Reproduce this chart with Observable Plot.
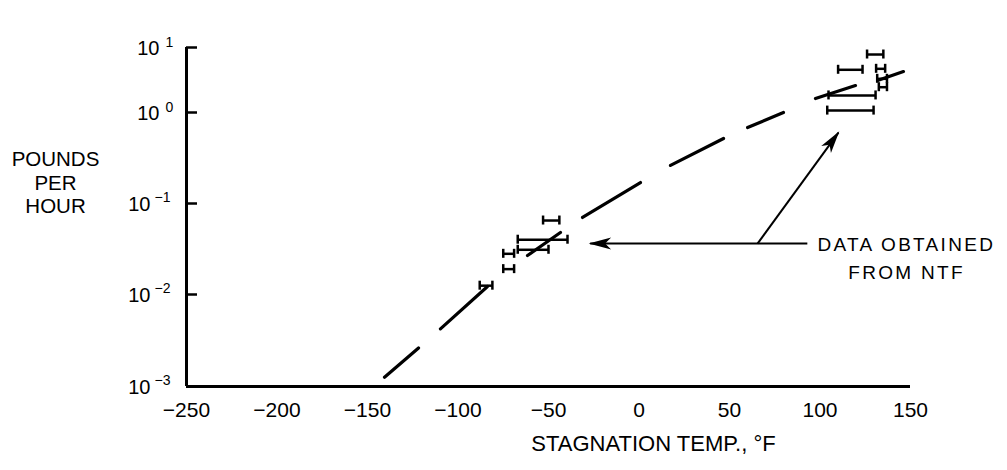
<!DOCTYPE html>
<html><head><meta charset="utf-8">
<script src="https://cdn.jsdelivr.net/npm/d3@7"></script>
<script src="https://cdn.jsdelivr.net/npm/@observablehq/plot@0.6"></script>
<style>
body{margin:0;background:#fff}
svg{font-family:"Liberation Sans",Arial,Helvetica,sans-serif}
</style>
</head><body><div id="chart"></div>
<script>
// Dashed trend curve: points at the ends of each hand-drawn dash (dash, gap, dash, ...)
const curveTemp = [-140.6, -121.8, -109.7, -83.7, -61.6, -43.4, -31.2, 0.8, 17.4, 46.7, 60.0, 79.8, 97.5, 119.6, 131.8, 146.1];
const curveRate = [0.00126, 0.00262, 0.00423, 0.01225, 0.0268, 0.048, 0.0702, 0.170, 0.262, 0.518, 0.684, 1.0, 1.64, 2.60, 3.11, 4.27];
// Error bars (data obtained from NTF)
const barLow  = [-88, -75, -75, -67, -67, -53, 104, 104.7, 110, 126, 131, 131.6, 132.5];
const barHigh = [-81, -69, -69, -50, -39.5, -44, 129.6, 130.7, 123.5, 135, 136, 137, 137];
const barRate = [0.0125, 0.019, 0.028, 0.031, 0.040, 0.065, 1.07, 1.83, 4.54, 7.8, 4.7, 3.3, 2.45];
// Axis ticks
const xTicks = [-250, -200, -150, -100, -50, 0, 50, 100, 150];
const yTicks = [0.001, 0.01, 0.1, 1, 10];
const yExpNeg = [0.001, 0.01, 0.1];
const yExpNegLabels = ["\u22123", "\u22122", "\u22121"];
const yExpPos = [1, 10];
const yExpPosLabels = ["0", "1"];
// Annotation
const arrowFromX = [93, 65.5];
const arrowFromY = [0.0363, 0.0363];
const arrowToX = [-27, 110.2];
const arrowToY = [0.0363, 0.602];
const noteText = ["DATA OBTAINED", "FROM NTF"];
const noteX = [98.6, 147.8];
const noteY = [0.0363, 0.0363];

const W = 1007, H = 470, ML = 186, MR = 97;
const xDomain = [-250, 150];
const yRange = [386, 294, 203, 112, 47];

const curve = curveTemp.map((t, i) => ({t, r: curveRate[i]}));
const bars = barRate.map((r, i) => ({lo: barLow[i], hi: barHigh[i], r}));
const arrows = arrowFromX.map((x, i) => ({x1: x, y1: arrowFromY[i], x2: arrowToX[i], y2: arrowToY[i]}));

// hand-drawn dashes: alternate dash / gap between successive curve points (pixel lengths)
const xs = d3.scaleLinear(xDomain, [ML, W - MR]);
const ys = d3.scaleLog(yTicks, yRange);
const dashLens = [];
for (let i = 1; i < curve.length; i++) {
  dashLens.push(Math.hypot(xs(curve[i].t) - xs(curve[i - 1].t), ys(curve[i].r) - ys(curve[i - 1].r)));
}
if (dashLens.length % 2 === 1) dashLens.push(1000);
const dashPattern = dashLens.map(v => v.toFixed(2)).join(",");

function arrowHead(color) {
  const m = d3.create("svg:marker")
    .attr("viewBox", "-23 -7 25 14")
    .attr("markerWidth", 25).attr("markerHeight", 14)
    .attr("markerUnits", "userSpaceOnUse")
    .attr("orient", "auto")
    .attr("refX", 0).attr("refY", 0)
    .attr("fill", "black").attr("stroke", "none");
  m.append("path").attr("d", "M1.5,0L-21,-6L-15,0L-21,6Z");
  return m.node();
}

let arrowMark;
try {
  arrowMark = Plot.link(arrows, {x1: "x1", y1: "y1", x2: "x2", y2: "y2", stroke: "black", strokeWidth: 2, markerEnd: arrowHead});
} catch (e) {
  arrowMark = Plot.arrow(arrows, {x1: "x1", y1: "y1", x2: "x2", y2: "y2", stroke: "black", strokeWidth: 2.2, headLength: 20, headAngle: 30});
}

const chart = Plot.plot({
  width: W, height: H,
  marginLeft: ML, marginRight: MR, marginTop: 47, marginBottom: 84,
  style: {fontFamily: "'Liberation Sans', Arial, sans-serif", background: "white", color: "black", overflow: "visible"},
  x: {domain: xDomain, axis: null},
  y: {type: "log", domain: yTicks, range: yRange, axis: null},
  marks: [
    // axes
    Plot.ruleX([-250], {y1: 0.001, y2: 10, stroke: "black", strokeWidth: 3}),
    Plot.ruleY([0.001], {x1: -250, x2: 150, stroke: "black", strokeWidth: 3}),
    Plot.ruleY(yTicks.slice(1), {y: d => d, x1: -250, x2: -250, insetRight: -11, stroke: "black", strokeWidth: 2.5}),
    Plot.text(xTicks, {x: d => d, y: 0.001, text: d => d < 0 ? "\u2212" + (-d) : String(d), dy: 24, fontSize: 21, textAnchor: "middle"}),
    Plot.text(yExpNeg, {x: -250, y: d => d, text: () => "10", dx: -36, dy: 1, fontSize: 20, textAnchor: "end"}),
    Plot.text(yExpNeg, {x: -250, y: d => d, text: (d, i) => yExpNegLabels[i], dx: -32, dy: -6, fontSize: 14, textAnchor: "start"}),
    Plot.text(yExpPos, {x: -250, y: d => d, text: () => "10", dx: -27, dy: 1, fontSize: 20, textAnchor: "end"}),
    Plot.text(yExpPos, {x: -250, y: d => d, text: (d, i) => yExpPosLabels[i], dx: -21, dy: -5, fontSize: 14, textAnchor: "start"}),
    Plot.text(["STAGNATION TEMP., \u00b0F"], {frameAnchor: "bottom", dx: 105, dy: 64, fontSize: 22, textAnchor: "middle"}),
    Plot.text(["POUNDS\nPER\nHOUR"], {frameAnchor: "left", dx: -131, dy: -35, fontSize: 20.5, lineHeight: 1.15, textAnchor: "middle"}),
    // curve
    Plot.line(curve, {x: "t", y: "r", stroke: "black", strokeWidth: 3.2, curve: "linear", strokeDasharray: dashPattern}),
    // error bars
    Plot.ruleY(bars, {y: "r", x1: "lo", x2: "hi", stroke: "black", strokeWidth: 2.5}),
    Plot.ruleX(bars, {x: "lo", y1: "r", y2: "r", insetTop: -4.5, insetBottom: -4.5, stroke: "black", strokeWidth: 2.5}),
    Plot.ruleX(bars, {x: "hi", y1: "r", y2: "r", insetTop: -4.5, insetBottom: -4.5, stroke: "black", strokeWidth: 2.5}),
    // annotation
    arrowMark,
    Plot.text([0], {x: () => noteX[0], y: () => noteY[0], text: () => noteText[0], fontSize: 19, textAnchor: "start", dy: 1}),
    Plot.text([1], {x: () => noteX[1], y: () => noteY[1], text: () => noteText[1], fontSize: 19, textAnchor: "middle", dy: 29})
  ]
});
// letter spacing of the annotation
d3.select(chart).selectAll("text").filter(function() { return noteText.includes(this.textContent); })
  .style("letter-spacing", "2.3px");
document.getElementById("chart").appendChild(chart);
</script>
</body></html>
